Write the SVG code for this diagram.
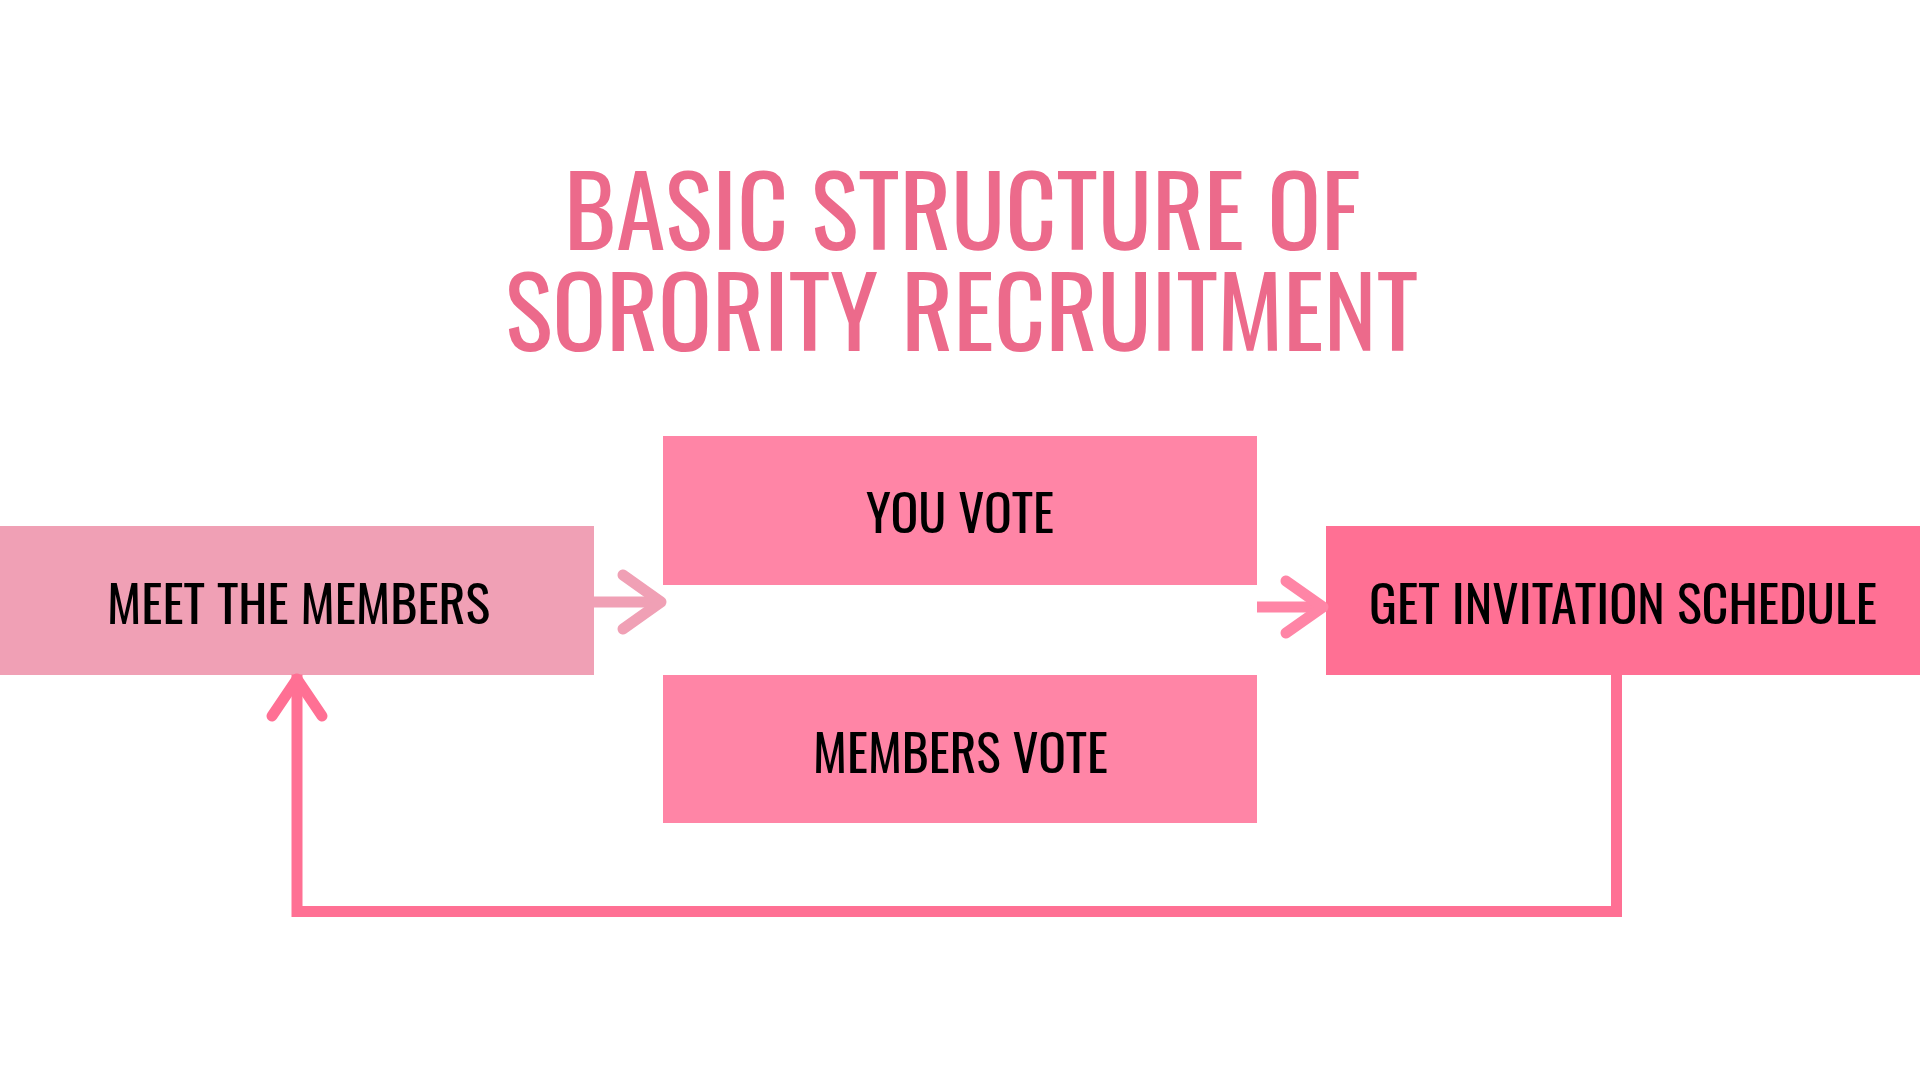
<svg xmlns="http://www.w3.org/2000/svg" width="1920" height="1080" viewBox="0 0 1920 1080">
<style>
.title{font-family:Oswald,"Liberation Sans Narrow","Liberation Sans",sans-serif;font-size:97px;fill:#EC6A8B;}
.lbl{font-family:Oswald,"Liberation Sans Narrow","Liberation Sans",sans-serif;font-size:51px;fill:#000;text-anchor:start;}
.conn{fill:none;stroke-width:11;}
.chev{fill:none;stroke-width:11;stroke-linecap:round;stroke-linejoin:round;}
</style>
<rect width="1920" height="1080" fill="#fff"/>
<g id="title">
<text class="title" x="564" y="250" textLength="796" lengthAdjust="spacingAndGlyphs">BASIC STRUCTURE OF</text>
<text class="title" x="505" y="351" textLength="913" lengthAdjust="spacingAndGlyphs">SORORITY RECRUITMENT</text>
</g>
<g id="node-meet">
<rect x="0" y="526" width="594" height="149" fill="#F0A0B5"/>
<text class="lbl" x="107" y="624" textLength="383" lengthAdjust="spacingAndGlyphs">MEET THE MEMBERS</text>
</g>
<g id="node-youvote">
<rect x="663" y="436" width="594" height="149" fill="#FF85A6"/>
<text class="lbl" x="866" y="533" textLength="188" lengthAdjust="spacingAndGlyphs">YOU VOTE</text>
</g>
<g id="node-membersvote">
<rect x="663" y="675" width="594" height="148" fill="#FF85A6"/>
<text class="lbl" x="813" y="773" textLength="295" lengthAdjust="spacingAndGlyphs">MEMBERS VOTE</text>
</g>
<g id="node-invite">
<rect x="1326" y="526" width="594" height="149" fill="#FF7094"/>
<text class="lbl" x="1369" y="624" textLength="508" lengthAdjust="spacingAndGlyphs">GET INVITATION SCHEDULE</text>
</g>
<g id="connectors">
<line class="conn" x1="594" y1="602" x2="658" y2="602" stroke="#F0A0B5"/>
<polyline class="chev" points="623,575 661,602 623,629" stroke="#F0A0B5"/>
<line class="conn" x1="1257" y1="607" x2="1320" y2="607" stroke="#FF85A6"/>
<polyline class="chev" points="1286,581 1323,607 1286,633" stroke="#FF85A6"/>
<path class="conn" d="M1616.5 675 V911.5 H297 V680" stroke="#FF7094" stroke-linecap="square" stroke-linejoin="miter"/>
<polyline class="chev" points="272,716 297,679 322,716" stroke="#FF7094"/>
</g>
</svg>
